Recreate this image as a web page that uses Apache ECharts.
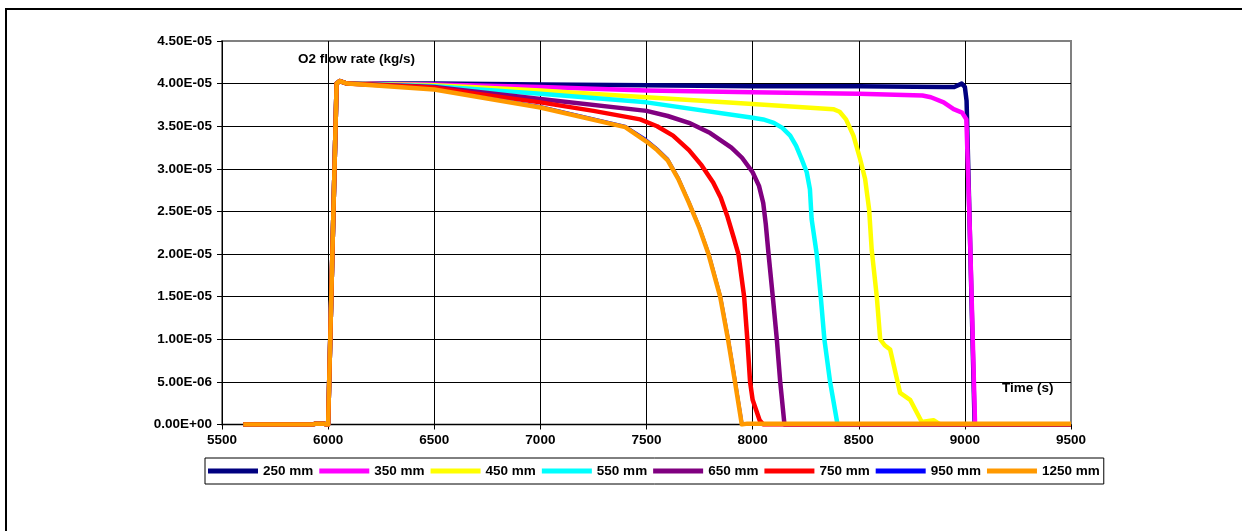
<!DOCTYPE html>
<html>
<head>
<meta charset="utf-8">
<script src="https://cdn.jsdelivr.net/npm/echarts@6/dist/echarts.min.js"></script>
<style>
html,body{margin:0;padding:0;background:#fff;}
#c{position:absolute;left:0;top:0;width:1242px;height:531px;}
#frame{position:absolute;left:5px;top:8px;width:1400px;height:700px;border:2px solid #000;pointer-events:none;}
</style>
</head>
<body>
<div id="c"></div>
<div id="frame"></div>
<script>
// ---- data ----
const seriesNames = ['250 mm','350 mm','450 mm','550 mm','650 mm','750 mm','950 mm','1250 mm'];
const xTicks = [5500,6000,6500,7000,7500,8000,8500,9000,9500];
const startT = [5600,5930,5940,5980,5990,6000,6040,6055,6090];
const startV = [0,0,1e-7,1e-7,0,0,4.0e-5,4.03e-5,4.0e-5];

const t250 = [6500,7000,7500,8000,8500,8900,8950,8985,9000,9008,9020,9046,9500];
const v250 = [4.0e-5,3.99e-5,3.98e-5,3.97e-5,3.97e-5,3.96e-5,3.96e-5,4.0e-5,3.96e-5,3.8e-5,2.6e-5,0,0];

const t350 = [6500,7000,7500,8000,8500,8800,8840,8900,8947,8987,9007,9022,9048,9500];
const v350 = [3.99e-5,3.96e-5,3.92e-5,3.90e-5,3.88e-5,3.86e-5,3.84e-5,3.78e-5,3.70e-5,3.66e-5,3.58e-5,2.4e-5,0,0];

const t450 = [6500,7000,7500,8000,8380,8410,8440,8475,8507,8530,8549,8561,8585,8601,8622,8648,8695,8742,8797,8852,8883,9500];
const v450 = [3.98e-5,3.92e-5,3.84e-5,3.76e-5,3.70e-5,3.67e-5,3.58e-5,3.39e-5,3.11e-5,2.88e-5,2.52e-5,2.05e-5,1.5e-5,1.0e-5,0.93e-5,0.88e-5,0.37e-5,0.29e-5,0.03e-5,0.05e-5,0,0];

const t550 = [6500,7000,7500,8000,8050,8100,8140,8177,8205,8230,8255,8270,8278,8302,8321,8338,8365,8400,9500];
const v550 = [3.97e-5,3.88e-5,3.78e-5,3.60e-5,3.58e-5,3.54e-5,3.48e-5,3.39e-5,3.27e-5,3.12e-5,2.96e-5,2.76e-5,2.41e-5,2.0e-5,1.5e-5,1.0e-5,0.5e-5,0,0];

const t650 = [6500,7000,7500,7600,7700,7800,7900,7950,8000,8030,8050,8062,8075,8095,8114,8130,8150,9500];
const v650 = [3.96e-5,3.82e-5,3.68e-5,3.62e-5,3.54e-5,3.42e-5,3.25e-5,3.13e-5,2.96e-5,2.8e-5,2.6e-5,2.35e-5,2.0e-5,1.5e-5,1.0e-5,0.5e-5,0,0];

const t750 = [6500,7000,7250,7470,7550,7625,7700,7760,7814,7850,7880,7910,7933,7960,7975,7988,8000,8033,8050,9500];
const v750 = [3.95e-5,3.78e-5,3.68e-5,3.58e-5,3.5e-5,3.39e-5,3.22e-5,3.04e-5,2.84e-5,2.66e-5,2.45e-5,2.2e-5,2.0e-5,1.5e-5,1.0e-5,0.5e-5,0.29e-5,0.05e-5,0,0];

const t950 = [6500,7000,7400,7500,7553,7603,7653,7703,7753,7798,7853,7890,7923,7955,9500];
const v950 = [3.94e-5,3.74e-5,3.51e-5,3.35e-5,3.24e-5,3.12e-5,2.9e-5,2.62e-5,2.32e-5,2.0e-5,1.5e-5,1.0e-5,0.5e-5,0,0];

const t1250 = [6500,7000,7400,7500,7550,7600,7650,7700,7750,7792,7847,7884,7917,7949,7975,7990,9500];
const v1250 = [3.93e-5,3.72e-5,3.49e-5,3.32e-5,3.22e-5,3.1e-5,2.88e-5,2.6e-5,2.3e-5,2.0e-5,1.5e-5,1.0e-5,0.5e-5,0,1e-7,1e-7,1e-7];

const colors = ['#000080','#FF00FF','#FFFF00','#00FFFF','#800080','#FF0000','#0000FF','#FF9900'];
const widths = [4.5,4.5,4.5,4.5,4.5,4.5,1.5,4.5];
const allT = [t250,t350,t450,t550,t650,t750,t950,t1250];
const allV = [v250,v350,v450,v550,v650,v750,v950,v1250];

function pairs(t, v){
  const out = [];
  for (let i=0;i<startT.length;i++) out.push([startT[i], startV[i]]);
  for (let i=0;i<t.length;i++) out.push([t[i], v[i]]);
  return out;
}
function fmt(v){
  if (Math.abs(v) < 1e-12) return '0.00E+00';
  let e = Math.floor(Math.log10(Math.abs(v)));
  let m = v/Math.pow(10,e);
  if (Math.round(m*100)/100 >= 10){ m/=10; e++; }
  if (Math.round(m*100)/100 < 1){ m*=10; e--; }
  return m.toFixed(2)+'E'+(e<0?'-':'+')+String(Math.abs(e)).padStart(2,'0');
}

const chart = echarts.init(document.getElementById('c'), null, {renderer:'canvas'});
const FS = 13.5;
const font = {fontFamily:'Liberation Sans, Arial, sans-serif', fontWeight:'bold', fontSize:FS, color:'#000'};
chart.setOption({
  animation:false,
  backgroundColor:'#fff',
  grid:{left:222, right:171, top:41, bottom:106.5, show:true, borderColor:'#808080', borderWidth:2, backgroundColor:'transparent'},
  xAxis:{
    type:'value', min:xTicks[0], max:xTicks[xTicks.length-1], interval:500,
    axisLine:{show:true, onZero:false, lineStyle:{color:'#000', width:1}},
    axisTick:{show:true, inside:false, length:5, lineStyle:{color:'#000'}},
    axisLabel:Object.assign({margin:9, formatter:(v)=>String(Math.round(v))}, font),
    splitLine:{show:true, showMinLine:false, showMaxLine:false, lineStyle:{color:'#000', width:1}}
  },
  yAxis:{
    type:'value', min:0, max:4.5e-5, interval:5e-6,
    axisLine:{show:true, lineStyle:{color:'#000', width:1}},
    axisTick:{show:true, inside:false, length:5, lineStyle:{color:'#000'}},
    axisLabel:Object.assign({margin:10, formatter:fmt}, font),
    splitLine:{show:true, showMinLine:false, showMaxLine:false, lineStyle:{color:'#000', width:1}}
  },
  legend:{
    show:true, left:205, top:458, orient:'horizontal',
    icon:'rect', itemWidth:50, itemHeight:5, itemGap:6,
    padding:[6,4,6,3],
    backgroundColor:'#fff', borderColor:'#000', borderWidth:1,
    textStyle:Object.assign({padding:0}, font),
    data:seriesNames
  },
  graphic:[
    {type:'text', left:298, top:52, style:{text:'O2 flow rate (kg/s)', font:'bold 13.5px "Liberation Sans", Arial, sans-serif', fill:'#000'}},
    {type:'text', left:1002, top:381, style:{text:'Time (s)', font:'bold 13.5px "Liberation Sans", Arial, sans-serif', fill:'#000'}}
  ],
  series: seriesNames.map((n,i)=>({
    name:n, type:'line', data:pairs(allT[i], allV[i]),
    showSymbol:false, symbol:'none', smooth:false,
    itemStyle:{color:colors[i]},
    lineStyle:{color:colors[i], width:widths[i], join:'round'},
    z:2+i
  }))
});
</script>
</body>
</html>
